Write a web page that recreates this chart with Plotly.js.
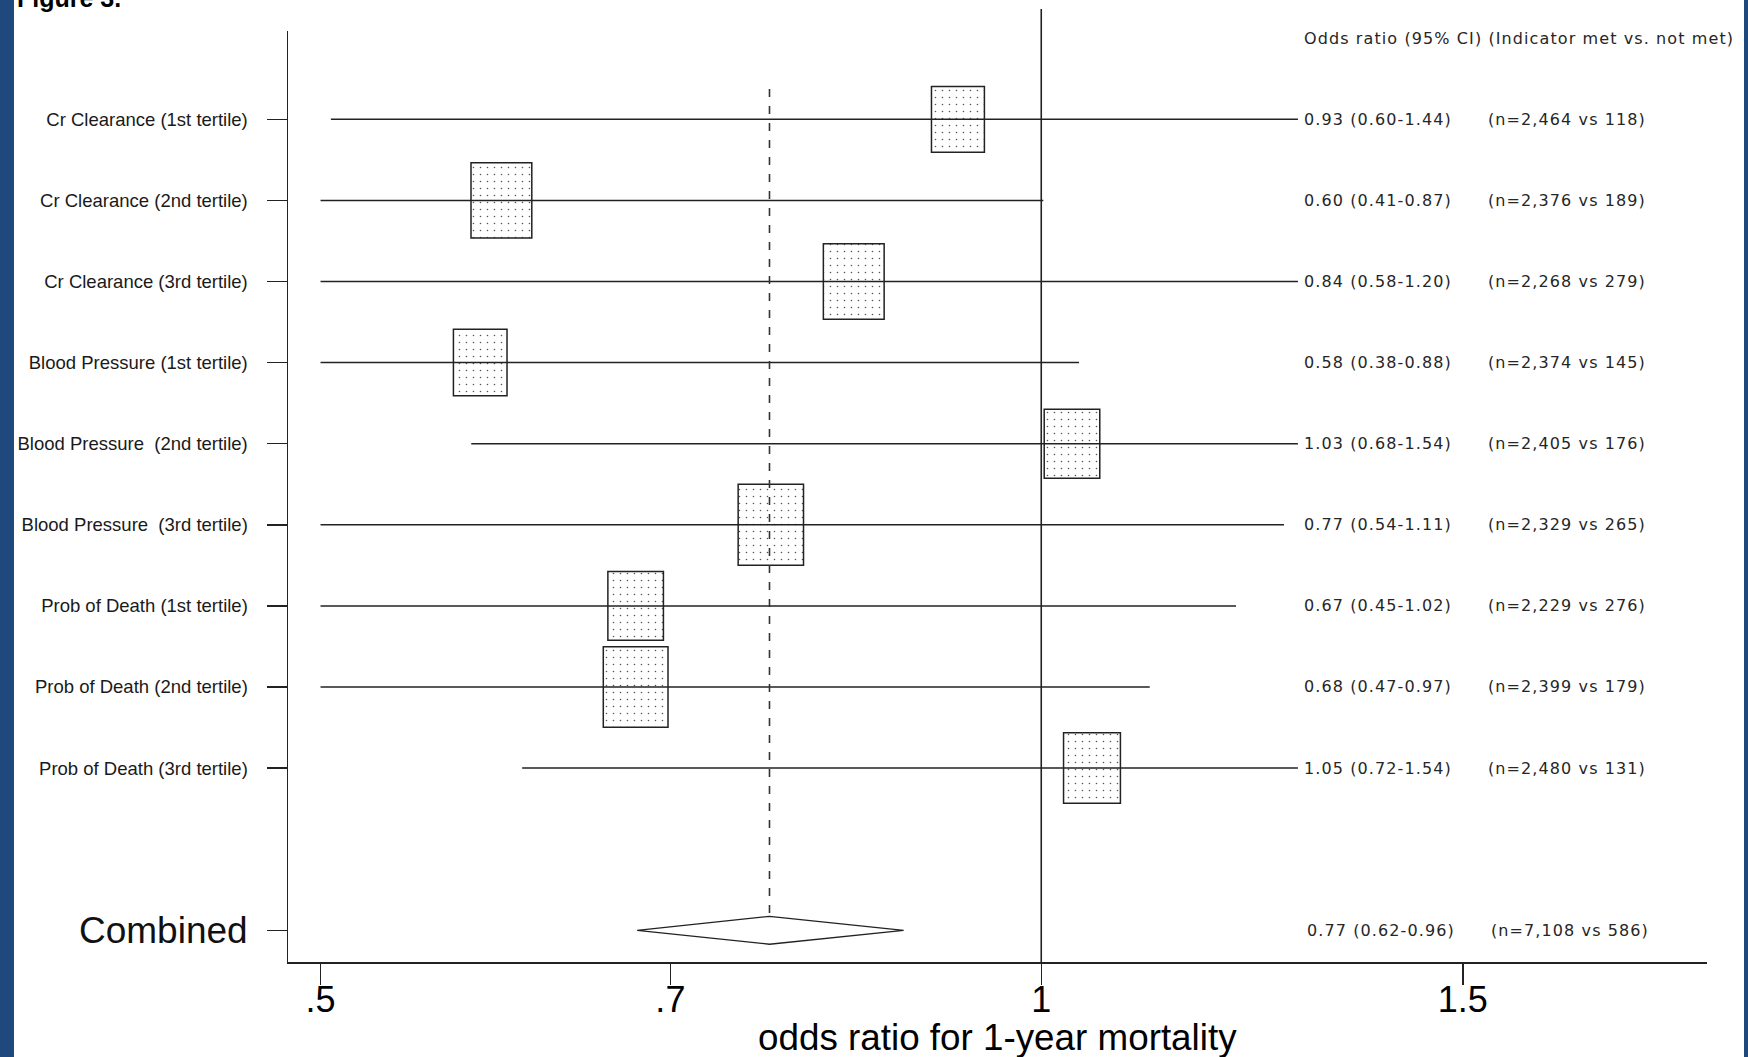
<!DOCTYPE html>
<html><head><meta charset="utf-8">
<script src="https://cdn.plot.ly/plotly-3.0.1.min.js"></script>
<style>html,body{margin:0;padding:0;background:#fff;}#chart{width:1748px;height:1057px;}</style>
</head><body><div id="chart"></div>
<script>
// ---------- data ----------
const categories = ['Cr Clearance (1st tertile)', 'Cr Clearance (2nd tertile)', 'Cr Clearance (3rd tertile)',
  'Blood Pressure (1st tertile)', 'Blood Pressure \u00a0(2nd tertile)', 'Blood Pressure \u00a0(3rd tertile)',
  'Prob of Death (1st tertile)', 'Prob of Death (2nd tertile)', 'Prob of Death (3rd tertile)'];
const orReported = [0.93, 0.60, 0.84, 0.58, 1.03, 0.77, 0.67, 0.68, 1.05];
const ciLowReported = [0.60, 0.41, 0.58, 0.38, 0.68, 0.54, 0.45, 0.47, 0.72];
const ciHighReported = [1.44, 0.87, 1.20, 0.88, 1.54, 1.11, 1.02, 0.97, 1.54];
const nMet = [2464, 2376, 2268, 2374, 2405, 2329, 2229, 2399, 2480];
const nNotMet = [118, 189, 279, 145, 176, 265, 276, 179, 131];
// positions of the marks as they are drawn in the figure
const orDrawn = [0.923, 0.595, 0.835, 0.583, 1.03, 0.771, 0.677, 0.677, 1.05];
const whiskerLow = [0.505, 0.50, 0.50, 0.50, 0.578, 0.50, 0.50, 0.50, 0.607];
const whiskerHigh = [1.28, 1.002, 1.28, 1.037, 1.28, 1.263, 1.206, 1.11, 1.28];
const boxWeight = [0.81, 0.93, 0.93, 0.82, 0.85, 1.00, 0.85, 0.99, 0.87];
const combinedLabel = 'Combined';
const combinedOr = 0.77, combinedLow = 0.62, combinedHigh = 0.96;
const combinedNMet = 7108, combinedNNot = 586;
const combinedDrawnLow = 0.678, combinedDrawnHigh = 0.876;
const xTickVals = [0.5, 0.7, 1, 1.5];
const xTickText = ['.5', '.7', '1', '1.5'];
const headerText = 'Odds ratio (95% CI) (Indicator met vs. not met)';
const xTitle = 'odds ratio for 1-year mortality';
const figTitle = 'Figure 3.';

// ---------- geometry ----------
const FW = 1748, FH = 1057;
const ML = 288, MR = 41, MT = 31, MB = 95;
const PW = FW - ML - MR, PH = FH - MT - MB;
const xRange = [Math.log10(0.4846), Math.log10(1.897)];
const yRange = [11.391, -0.0888];
const lnPx = PW / ((xRange[1] - xRange[0]) * Math.LN10);
const rowPx = PH / (yRange[0] - yRange[1]);
const px2paperX = p => (p - ML) / PW;
const px2paperY = p => (FH - MB - p) / PH;

const rows = categories.map((_, i) => i + 1);
const combinedRow = categories.length + 2;

const ink = '#222222';
const textInk = '#262626';
const rightFont = {family: 'DejaVu Sans, Verdana, sans-serif', size: 16, color: textInk};
const spaced = s => '<span style="letter-spacing:1.1px">' + s + '</span>';
const fmt = v => v.toFixed(2);
const fmtN = v => v.toLocaleString('en-US');

// whiskers
const wx = [], wy = [];
rows.forEach((r, i) => { wx.push(whiskerLow[i], whiskerHigh[i], null); wy.push(r, r, null); });

// boxes (bars with base)
const boxHalfLn = boxWeight.map(w => 0.5 * 0.806 * w * rowPx / lnPx);
const boxLo = orDrawn.map((v, i) => v * Math.exp(-boxHalfLn[i]));
const boxHi = orDrawn.map((v, i) => v * Math.exp(boxHalfLn[i]));

// diamond
const dh = 0.172;
const dx = [combinedDrawnLow, combinedOr, combinedDrawnHigh, combinedOr, combinedDrawnLow];
const dy = [combinedRow, combinedRow - dh, combinedRow, combinedRow + dh, combinedRow];

const traces = [
  {type: 'bar', orientation: 'h', y: rows, base: boxLo, x: boxHi.map((h, i) => h - boxLo[i]),
   width: boxWeight, hoverinfo: 'skip',
   marker: {color: '#ffffff', line: {color: ink, width: 1.5},
     pattern: {shape: '.', fgcolor: '#555555', bgcolor: '#ffffff', size: 7, solidity: 0.04, fillmode: 'replace'}}},
  {type: 'scatter', mode: 'lines', x: wx, y: wy, line: {color: ink, width: 1.5}, hoverinfo: 'skip'},
  {type: 'scatter', mode: 'lines', x: [combinedOr, combinedOr], y: [0.626, combinedRow - dh],
   line: {color: '#333333', width: 1.6, dash: '8px,9px'}, hoverinfo: 'skip'},
  {type: 'scatter', mode: 'lines', x: dx, y: dy, fill: 'toself', fillcolor: '#ffffff',
   line: {color: ink, width: 1.3}, hoverinfo: 'skip'}
];

const annotations = [];
annotations.push({xref: 'paper', yref: 'y', x: px2paperX(1302), y: 0, xanchor: 'left', yanchor: 'middle',
  text: spaced(headerText), showarrow: false, font: rightFont});
rows.forEach((r, i) => {
  annotations.push({xref: 'paper', yref: 'y', x: px2paperX(1302), y: r, xanchor: 'left', yanchor: 'middle',
    text: spaced(fmt(orReported[i]) + ' (' + fmt(ciLowReported[i]) + '-' + fmt(ciHighReported[i]) + ')'),
    showarrow: false, font: rightFont});
  annotations.push({xref: 'paper', yref: 'y', x: px2paperX(1486), y: r, xanchor: 'left', yanchor: 'middle',
    text: spaced('(n=' + fmtN(nMet[i]) + ' vs ' + fmtN(nNotMet[i]) + ')'), showarrow: false, font: rightFont});
});
annotations.push({xref: 'paper', yref: 'y', x: px2paperX(1305), y: combinedRow, xanchor: 'left', yanchor: 'middle',
  text: spaced(fmt(combinedOr) + ' (' + fmt(combinedLow) + '-' + fmt(combinedHigh) + ')'), showarrow: false, font: rightFont});
annotations.push({xref: 'paper', yref: 'y', x: px2paperX(1489), y: combinedRow, xanchor: 'left', yanchor: 'middle',
  text: spaced('(n=' + fmtN(combinedNMet) + ' vs ' + fmtN(combinedNNot) + ')'), showarrow: false, font: rightFont});
annotations.push({xref: 'paper', yref: 'y', x: px2paperX(250), y: combinedRow, xanchor: 'right', yanchor: 'middle',
  text: combinedLabel, showarrow: false, font: {family: 'Liberation Sans, Arial, sans-serif', size: 37, color: '#111'}});
annotations.push({xref: 'paper', yref: 'paper', x: 0.5, y: px2paperY(1037), xanchor: 'center', yanchor: 'middle',
  text: xTitle, showarrow: false, font: {family: 'Liberation Sans, Arial, sans-serif', size: 36.8, color: '#000'}});
annotations.push({xref: 'paper', yref: 'paper', x: px2paperX(15), y: px2paperY(14), xanchor: 'left', yanchor: 'bottom',
  text: '<b>' + figTitle + '</b>', showarrow: false, font: {family: 'Liberation Sans, Arial, sans-serif', size: 25, color: '#000'}});

const shapes = [
  {type: 'line', xref: 'x', yref: 'paper', x0: 1, x1: 1, y0: 0, y1: px2paperY(9), line: {color: ink, width: 1.6}},
  {type: 'rect', xref: 'paper', yref: 'paper', x0: px2paperX(-2), x1: px2paperX(14), y0: -0.2, y1: 1.1,
   fillcolor: '#1F497D', line: {width: 0}},
  {type: 'rect', xref: 'paper', yref: 'paper', x0: px2paperX(1744), x1: px2paperX(1750), y0: -0.2, y1: 1.1,
   fillcolor: '#1F497D', line: {width: 0}}
];

const layout = {
  width: FW, height: FH,
  margin: {l: ML, r: MR, t: MT, b: MB, pad: 0},
  paper_bgcolor: '#ffffff', plot_bgcolor: '#ffffff',
  showlegend: false,
  font: {family: 'Liberation Sans, Arial, sans-serif', color: '#111'},
  xaxis: {type: 'log', range: xRange, tickvals: xTickVals, ticktext: xTickText,
    ticks: 'outside', ticklen: 21, tickwidth: 1.5, tickcolor: ink,
    showline: true, linecolor: ink, linewidth: 1.5, showgrid: false, zeroline: false,
    ticklabelstandoff: -16,
    tickfont: {size: 36, color: '#000'}},
  yaxis: {range: yRange, tickvals: rows.concat([combinedRow]), ticktext: categories.concat(['']),
    ticks: 'outside', ticklen: 20, tickwidth: 1.5, tickcolor: ink,
    showline: true, linecolor: ink, linewidth: 1.5, showgrid: false, zeroline: false,
    ticklabelstandoff: 15,
    tickfont: {size: 18.5, color: '#1a1a1a'}},
  annotations: annotations,
  shapes: shapes
};

Plotly.newPlot('chart', traces, layout, {displayModeBar: false, staticPlot: true});
</script>
</body></html>
